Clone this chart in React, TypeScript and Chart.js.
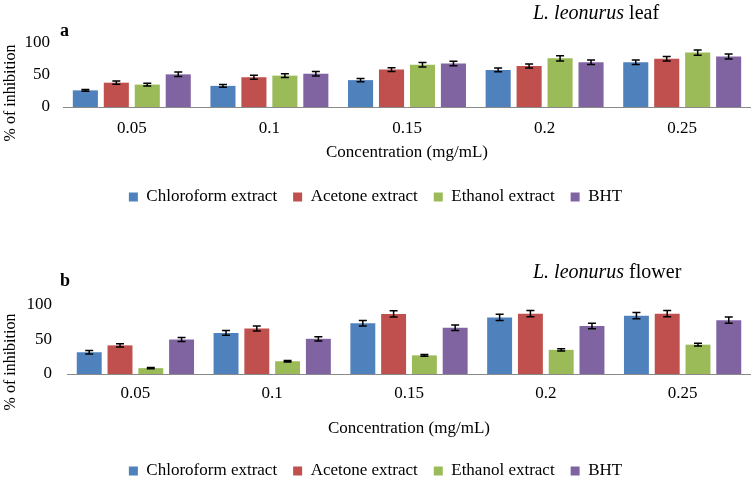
import React, { useEffect, useRef } from 'react';
import { Chart, registerables } from 'chart.js';

Chart.register(...registerables);

const categories = ['0.05', '0.1', '0.15', '0.2', '0.25'];
const seriesNames = ['Chloroform extract', 'Acetone extract', 'Ethanol extract', 'BHT'];
const seriesColors = ['#4F81BD', '#C0504D', '#9BBB59', '#8064A2'];
const yTicks = [0, 50, 100];

const leafChloroform = [26, 33, 42, 58, 70];
const leafAcetone = [38, 46.5, 58.5, 64, 75.5];
const leafEthanol = [35, 49, 66, 76, 85];
const leafBHT = [51, 52, 68, 70, 79];
const leafChloroformErr = [1.5, 2, 2.5, 3, 3.5];
const leafAcetoneErr = [2.5, 3, 3, 3, 3.5];
const leafEthanolErr = [2, 3, 3.5, 4, 4];
const leafBHTErr = [3.5, 3.5, 3.5, 3.5, 4];

const flowerChloroform = [31.5, 59.5, 73.5, 82, 84.5];
const flowerAcetone = [41.5, 66, 87, 87.5, 87.5];
const flowerEthanol = [8.5, 18.5, 27, 35, 42.5];
const flowerBHT = [50, 51, 67, 69.5, 78];
const flowerChloroformErr = [2.5, 3.5, 4, 4.5, 4.5];
const flowerAcetoneErr = [2.5, 3.5, 4.5, 4.5, 4.5];
const flowerEthanolErr = [1, 1, 1.2, 1.5, 2];
const flowerBHTErr = [3, 3, 4, 4, 4.5];

const FONT = "'Liberation Serif', 'Times New Roman', serif";

const errorBarPlugin = {
  id: 'errorBars',
  afterDatasetsDraw(chart: any, _args: any, opts: any) {
    const errs = opts.errors as number[][];
    const yScale = chart.scales.y;
    const ctx = chart.ctx;
    ctx.save();
    ctx.strokeStyle = '#000';
    ctx.lineWidth = 1.5;
    chart.data.datasets.forEach((ds: any, i: number) => {
      const meta = chart.getDatasetMeta(i);
      meta.data.forEach((bar: any, j: number) => {
        const v = ds.data[j];
        const e = errs[i][j];
        const x = bar.x;
        const yt = yScale.getPixelForValue(v + e);
        const yb = yScale.getPixelForValue(v - e);
        ctx.beginPath();
        ctx.moveTo(x, yt);
        ctx.lineTo(x, yb);
        ctx.moveTo(x - 4, yt);
        ctx.lineTo(x + 4, yt);
        ctx.moveTo(x - 4, yb);
        ctx.lineTo(x + 4, yb);
        ctx.stroke();
      });
    });
    ctx.restore();
  },
};

const panelTextPlugin = {
  id: 'panelText',
  afterDraw(chart: any, _args: any, o: any) {
    const ctx = chart.ctx;
    ctx.save();
    ctx.fillStyle = '#000';
    ctx.textAlign = 'left';
    ctx.textBaseline = 'alphabetic';
    ctx.font = `bold 18px ${FONT}`;
    ctx.fillText(o.letter, o.letterX, o.letterY);
    ctx.font = `italic 20px ${FONT}`;
    ctx.fillText(o.titleItalic, o.titleX, o.titleY);
    const w = ctx.measureText(o.titleItalic).width;
    ctx.font = `20px ${FONT}`;
    ctx.fillText(o.titleRest, o.titleX + w, o.titleY);
    ctx.translate(o.yTitleX, o.yTitleY);
    ctx.rotate(-Math.PI / 2);
    ctx.font = `16px ${FONT}`;
    ctx.textAlign = 'center';
    ctx.textBaseline = 'middle';
    ctx.fillText(o.yTitle, 0, 0);
    ctx.restore();
  },
};

type PanelProps = {
  values: number[][];
  errors: number[][];
  letter: string;
  titleRest: string;
  layout: {
    padTop: number;
    padBottom: number;
    yWidth: number;
    yTickPad: number;
    xTickPad: number;
    xTitlePad: number;
    xHeight: number;
    letterY: number;
    titleY: number;
    yTitleY: number;
  };
};

function Panel({ values, errors, letter, titleRest, layout }: PanelProps) {
  const ref = useRef<HTMLCanvasElement>(null);
  useEffect(() => {
    if (!ref.current) return;
    const chart = new Chart(ref.current, {
      type: 'bar',
      data: {
        labels: categories,
        datasets: seriesNames.map((name, i) => ({
          label: name,
          data: values[i],
          backgroundColor: seriesColors[i],
          borderWidth: 0,
          barPercentage: 0.81,
          categoryPercentage: 0.9,
        })),
      },
      options: {
        animation: false,
        responsive: false,
        maintainAspectRatio: false,
        layout: { padding: { top: layout.padTop, bottom: layout.padBottom, left: 0, right: 0 } },
        scales: {
          x: {
            grid: { display: false, drawTicks: false },
            border: { display: true, color: '#8a8a8a', width: 1 },
            ticks: { color: '#000', font: { family: FONT, size: 17 }, padding: layout.xTickPad },
            title: {
              display: true,
              text: 'Concentration (mg/mL)',
              color: '#000',
              font: { family: FONT, size: 17 },
              padding: { top: 0, bottom: layout.xTitlePad },
            },
            afterFit: (s: any) => {
              s.height = layout.xHeight;
            },
          },
          y: {
            min: 0,
            max: 100,
            grid: { display: false, drawTicks: false },
            border: { display: false },
            afterBuildTicks: (s: any) => {
              s.ticks = yTicks.map((v) => ({ value: v }));
            },
            ticks: { color: '#000', font: { family: FONT, size: 17 }, padding: layout.yTickPad },
            afterFit: (s: any) => {
              s.width = layout.yWidth;
            },
          },
        },
        plugins: {
          legend: {
            position: 'bottom',
            labels: {
              color: '#000',
              font: { family: FONT, size: 17 },
              boxWidth: 9,
              boxHeight: 9,
              padding: 16,
            },
          },
          tooltip: { enabled: false },
          errorBars: { errors },
          panelText: {
            letter,
            letterX: 60,
            letterY: layout.letterY,
            titleItalic: 'L. leonurus',
            titleRest,
            titleX: 533,
            titleY: layout.titleY,
            yTitle: '% of inhibition',
            yTitleX: 11,
            yTitleY: layout.yTitleY,
          },
        } as any,
      },
      plugins: [errorBarPlugin, panelTextPlugin],
    });
    return () => chart.destroy();
  }, []);
  return <canvas ref={ref} width={751} height={247} style={{ display: 'block', width: 751, height: 247 }} />;
}

export default function App() {
  useEffect(() => {
    document.body.style.margin = '0';
  }, []);
  return (
    <div style={{ position: 'absolute', left: 0, top: 0, width: 751, height: 494, background: '#fff' }}>
      <Panel
        values={[leafChloroform, leafAcetone, leafEthanol, leafBHT]}
        errors={[leafChloroformErr, leafAcetoneErr, leafEthanolErr, leafBHTErr]}
        letter="a"
        titleRest=" leaf"
        layout={{
          padTop: 43,
          padBottom: 31.5,
          yWidth: 63,
          yTickPad: 13,
          xTickPad: 11,
          xTitlePad: 10,
          xHeight: 65.5,
          letterY: 36,
          titleY: 19,
          yTitleY: 93,
        }}
      />
      <Panel
        values={[flowerChloroform, flowerAcetone, flowerEthanol, flowerBHT]}
        errors={[flowerChloroformErr, flowerAcetoneErr, flowerEthanolErr, flowerBHTErr]}
        letter="b"
        titleRest=" flower"
        layout={{
          padTop: 58,
          padBottom: 4.5,
          yWidth: 67,
          yTickPad: 15,
          xTickPad: 9,
          xTitlePad: 8,
          xHeight: 72.5,
          letterY: 39,
          titleY: 31,
          yTitleY: 115,
        }}
      />
    </div>
  );
}
